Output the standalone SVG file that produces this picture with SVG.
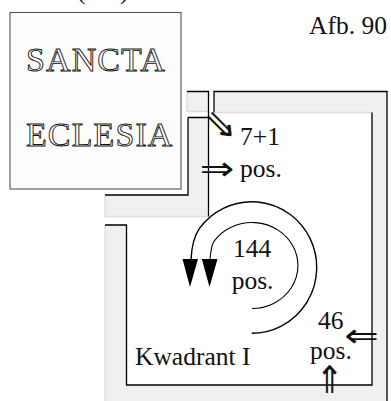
<svg xmlns="http://www.w3.org/2000/svg" width="391" height="401" viewBox="0 0 391 401">
<style>
.lbl{font-family:"Liberation Serif","Times New Roman",serif;font-size:25.5px;fill:#111}
.out{font-family:"Liberation Serif","Times New Roman",serif;font-size:34px;fill:#fff;stroke:#111;stroke-width:0.9;letter-spacing:1.1px}
.arw{font-family:"DejaVu Sans",sans-serif;font-size:33px;fill:#111;text-anchor:middle}
.wall{fill:#f0f0f0;stroke:none}
.blk{fill:none;stroke:#000;stroke-width:1.3}
.lite{fill:none;stroke:#dcdcdc;stroke-width:1.3}
.arc{fill:none;stroke:#000}
</style>
<rect width="391" height="401" fill="#fff"/>
<text class="lbl" x="77" y="-1">(</text>
<text class="lbl" x="120" y="-1">)</text>
<g id="kwadrant">
<path class="wall" d="M214,91.5H387V401H105V225H126.5V385H372V112.5H214Z"/>
<rect class="wall" x="187" y="91.5" width="21.5" height="20"/>
<path class="wall" d="M188,117.5H208.5V216.5H105V195H188Z"/>
<path class="lite" d="M187,91.5V111.5H208.5M214,112.5H372M105,195V216.5H208.5M105,225V401"/>
<path class="blk" d="M187,91.5H208.5V216.5M188,117.5H208.5M188,117.5V195H105M214,112.5V91.5H387V401M372,112.5V385H126.5V225H105"/>
</g>
<g id="sancta-ecclesia">
<rect x="10" y="12.5" width="171" height="176.5" fill="#fdfdfd" stroke="#555" stroke-width="1.1"/>
<text class="out" x="26" y="71">SANCTA</text>
<text class="out" x="26" y="146">ECLESIA</text>
</g>
<g id="connectors">
<path class="arc" stroke-width="1.4" d="M251.7,333.3A65,65.8 0 1 0 199.8,227.9C194,236 191.5,248 191,260"/>
<polygon points="182.5,259 198,259 190,287" fill="#000"/>
<path class="arc" stroke-width="1.1" d="M252,308.5A46,43 0 1 0 214.3,240.8C211.5,245 210.5,252 210,260"/>
<polygon points="201.8,259 217.5,259 209.5,287" fill="#000"/>
</g>
<g id="labels">
<text class="lbl" x="387" y="34" text-anchor="end">Afb. 90</text>
<text class="lbl" x="240" y="145">7+1</text>
<text class="lbl" x="240" y="177">pos.</text>
<text class="lbl" x="233" y="256.7">144</text>
<text class="lbl" x="231.7" y="289">pos.</text>
<text class="lbl" x="318" y="329">46</text>
<text class="lbl" x="310" y="359">pos.</text>
<text class="lbl" x="135" y="365">Kwadrant I</text>
<text class="arw" transform="translate(217,168) scale(1.25,1)" x="0" y="11.5">⇒</text>
<text class="arw" transform="translate(221,124) rotate(45) scale(1.25,1)" x="0" y="11.5">⇒</text>
<text class="arw" transform="translate(361.5,335) scale(1.25,1)" x="0" y="11.5">⇐</text>
<text class="arw" transform="translate(329.5,379) scale(1,1.15)" x="0" y="12">⇑</text>
</g>
</svg>
